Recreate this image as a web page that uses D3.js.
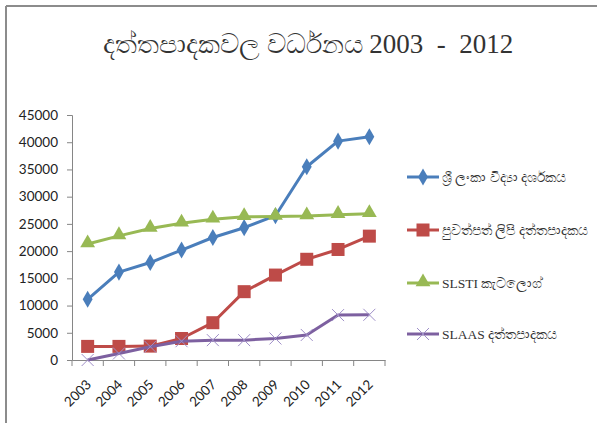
<!DOCTYPE html>
<html>
<head>
<meta charset="utf-8">
<script src="https://cdn.jsdelivr.net/npm/d3@7"></script>
<style>
  body { margin: 0; background: #fff; }
  svg text { font-family: "Liberation Serif", "DejaVu Serif", serif; }
  .tick text { font-family: Lato, "Liberation Sans", sans-serif; font-size: 13.5px; fill: #222; }
</style>
</head>
<body>
<div id="chart"></div>
<script>
// chart data
var years = ['2003', '2004', '2005', '2006', '2007', '2008', '2009', '2010', '2011', '2012'];
var yTicks = [0, 5000, 10000, 15000, 20000, 25000, 30000, 35000, 40000, 45000];

var slSciIndex = [11150, 16150, 17900, 20200, 22500, 24300, 26500, 35500, 40200, 41000];
var newsIndex = [2500, 2500, 2550, 3950, 6850, 12550, 15600, 18500, 20300, 22750];
var slstiCatalog = [21300, 22800, 24150, 25100, 25850, 26300, 26350, 26450, 26700, 26850];
var slaasDb = [0, 1200, 2450, 3450, 3650, 3650, 3950, 4600, 8250, 8300];

var seriesNames = ['ශ්‍රී ලංකා විද්‍යා දර්ශකය', 'පුවත්පත් ලිපි දත්තපාදකය', 'SLSTI කැටලොග්', 'SLAAS දත්තපාදකය'];

var series = [
  { name: seriesNames[0], values: slSciIndex, color: '#4a7ebb', marker: 'diamond' },
  { name: seriesNames[1], values: newsIndex, color: '#be4b48', marker: 'square' },
  { name: seriesNames[2], values: slstiCatalog, color: '#98b954', marker: 'triangle' },
  { name: seriesNames[3], values: slaasDb, color: '#7d60a0', marker: 'x' }
];

var width = 597, height = 423;
var svg = d3.select('#chart').append('svg')
  .attr('width', width)
  .attr('height', height);

// frame (only top + left visible in the source)
svg.append('line').attr('x1', 6).attr('y1', 6).attr('x2', width).attr('y2', 6)
  .attr('stroke', '#8c8c8c').attr('stroke-width', 2);
svg.append('line').attr('x1', 6).attr('y1', 6).attr('x2', 6).attr('y2', height)
  .attr('stroke', '#8c8c8c').attr('stroke-width', 2);

svg.append('text')
  .attr('x', 308).attr('y', 53)
  .attr('text-anchor', 'middle')
  .attr('font-size', 27)
  .attr('font-weight', 300)
  .attr('fill', '#333')
  .attr('xml:space', 'preserve')
  .style('white-space', 'pre')
  .text('දත්තපාදකවල වර්ධනය 2003  -  2012');

var x = d3.scaleBand().domain(years).range([72, 385]);
var y = d3.scaleLinear().domain([0, 45000]).range([360, 115]);

var yAxis = svg.append('g')
  .attr('transform', 'translate(72,0)')
  .call(d3.axisLeft(y).tickValues(yTicks).tickSize(5).tickPadding(9).tickFormat(d3.format('d')));
yAxis.select('.domain').attr('stroke', '#868686');
yAxis.selectAll('.tick line').attr('stroke', '#868686');

var xAxis = svg.append('g')
  .attr('transform', 'translate(0,360)')
  .call(d3.axisBottom(x).tickSize(0).tickPadding(0));
xAxis.select('.domain').attr('stroke', '#868686');
xAxis.selectAll('.tick text')
  .attr('text-anchor', 'end')
  .attr('transform', 'translate(1,22) rotate(-45)')
  .attr('dy', '0.35em')
  .attr('y', 0);

// category boundary ticks
var bounds = years.map(function(d) { return x(d); }).concat([x.range()[1]]);
svg.append('g').selectAll('line').data(bounds).enter().append('line')
  .attr('x1', function(d) { return d; }).attr('x2', function(d) { return d; })
  .attr('y1', 360).attr('y2', 366)
  .attr('stroke', '#868686');

var cx = function(i) { return x(years[i]) + x.bandwidth() / 2; };

var line = d3.line()
  .x(function(d, i) { return cx(i); })
  .y(function(d) { return y(d); });

var drawMarker = function(g, type, color, px, py) {
  if (type === 'diamond') {
    g.append('path').attr('d', d3.symbol().type(d3.symbolDiamond).size(85)())
      .attr('transform', 'translate(' + px + ',' + py + ')').attr('fill', color);
  } else if (type === 'square') {
    g.append('rect').attr('x', px - 6.5).attr('y', py - 6.5)
      .attr('width', 13).attr('height', 13).attr('fill', color);
  } else if (type === 'triangle') {
    g.append('path').attr('d', d3.symbol().type(d3.symbolTriangle).size(95)())
      .attr('transform', 'translate(' + px + ',' + (py - 1) + ')').attr('fill', color);
  } else {
    g.append('path').attr('d', 'M-6,-6L6,6M-6,6L6,-6')
      .attr('transform', 'translate(' + px + ',' + py + ')')
      .attr('stroke', '#9f8fc8').attr('stroke-width', 1).attr('fill', 'none');
  }
};

series.forEach(function(s) {
  var g = svg.append('g');
  g.append('path')
    .datum(s.values)
    .attr('d', line)
    .attr('fill', 'none')
    .attr('stroke', s.color)
    .attr('stroke-width', 3)
    .attr('stroke-linejoin', 'round');
  s.values.forEach(function(v, i) {
    drawMarker(g, s.marker, s.color, cx(i), y(v));
  });
});

// legend
var legendY = [177, 230, 283, 334];
series.forEach(function(s, i) {
  var g = svg.append('g');
  var ly = legendY[i];
  g.append('line').attr('x1', 407).attr('x2', 439).attr('y1', ly).attr('y2', ly)
    .attr('stroke', s.color).attr('stroke-width', 3);
  drawMarker(g, s.marker, s.color, 423, ly);
  g.append('text')
    .attr('x', 442).attr('y', ly + 5)
    .attr('font-size', 13.5)
    .attr('fill', '#333')
    .text(s.name);
});
</script>
</body>
</html>
